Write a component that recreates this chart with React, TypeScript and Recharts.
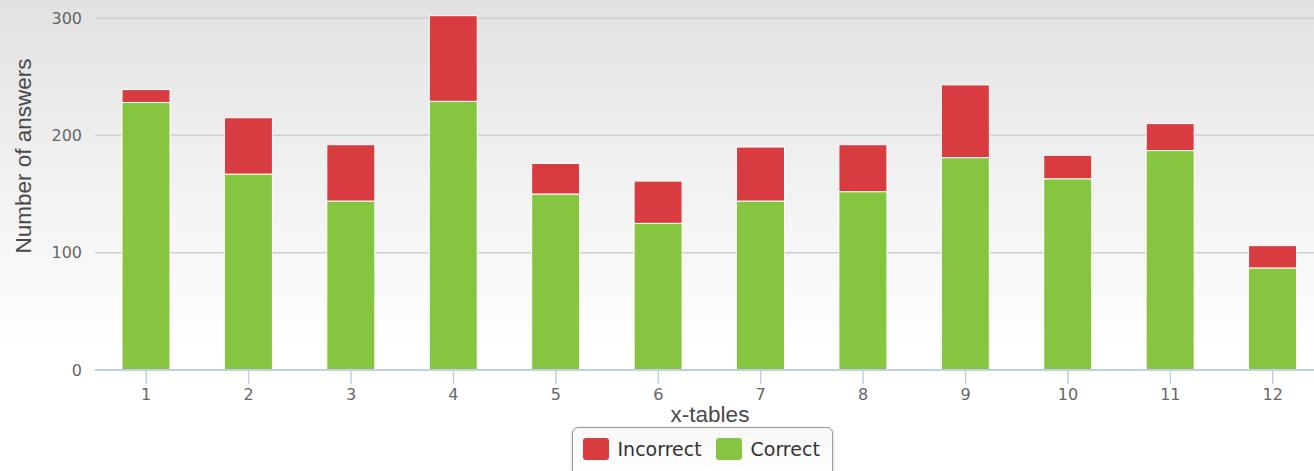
import React from 'react';
import { BarChart, Bar, XAxis, YAxis, CartesianGrid } from 'recharts';

const tables = ['1', '2', '3', '4', '5', '6', '7', '8', '9', '10', '11', '12'];
const correct = [228, 167, 144, 229, 150, 125, 144, 152, 181, 163, 187, 87];
const incorrect = [11, 48, 48, 73, 26, 36, 46, 40, 62, 20, 23, 19];
const yTicks = [0, 100, 200, 300];

const RED = '#d83c41';
const GREEN = '#86c540';

const data = tables.map((t, i) => ({ table: t, correct: correct[i], incorrect: incorrect[i] }));

const YTitle = () => (
  <text
    x={23}
    y={156}
    transform="rotate(-90 23 156)"
    textAnchor="middle"
    dominantBaseline="central"
    fill="#4a4a4a"
    fontSize={22.5}
    fontFamily="'Liberation Sans', Arial, sans-serif"
  >
    Number of answers
  </text>
);

const XTitle = () => (
  <text
    x={710}
    y={414}
    textAnchor="middle"
    dominantBaseline="central"
    fill="#4a4a4a"
    fontSize={22.5}
    fontFamily="'Liberation Sans', Arial, sans-serif"
  >
    x-tables
  </text>
);

const legendItems = [
  { name: 'Incorrect', color: RED },
  { name: 'Correct', color: GREEN },
];

const App: React.FC = () => {
  const tickStyle = { fill: '#666', fontSize: 16, fontFamily: "'DejaVu Sans', Verdana, sans-serif" };
  return (
    <div
      style={{
        position: 'absolute',
        left: 0,
        top: 0,
        width: 1314,
        height: 471,
        overflow: 'hidden',
        background: 'linear-gradient(to bottom, #e2e2e2 0%, #f4f4f4 45%, #ffffff 75%)',
      }}
    >
      {/* domain goes a touch past 300 so the tallest stack pokes above the top grid line */}
      <BarChart width={1330} height={471} data={data} margin={{ top: 14.5, right: 6, left: 0, bottom: 60 }} barSize={48}>
        <CartesianGrid vertical={false} stroke="#cfcfcf" strokeWidth={1.5} syncWithTicks />
        <XAxis
          dataKey="table"
          axisLine={{ stroke: '#c0d0e0', strokeWidth: 2 }}
          tickLine={{ stroke: '#c0d0e0', strokeWidth: 1.5 }}
          tickSize={14}
          tickMargin={5}
          height={41}
          tick={tickStyle}
          interval={0}
          label={<XTitle />}
        />
        <YAxis
          width={95}
          domain={[0, 303]}
          ticks={yTicks}
          axisLine={false}
          tickLine={false}
          tickSize={0}
          tickMargin={13}
          tick={tickStyle}
          label={<YTitle />}
        />
        <Bar dataKey="correct" stackId="a" fill={GREEN} stroke="#fff" strokeWidth={1} isAnimationActive={false} />
        <Bar dataKey="incorrect" stackId="a" fill={RED} stroke="#fff" strokeWidth={1} isAnimationActive={false} />
      </BarChart>
      <div
        style={{
          position: 'absolute',
          left: 572,
          top: 427,
          width: 261,
          height: 56,
          border: '1.5px solid #9a9a9a',
          borderRadius: 6,
          background: 'linear-gradient(to bottom, #f7f7f7, #ffffff)',
          boxShadow: '0 1px 3px rgba(0,0,0,0.25)',
          boxSizing: 'border-box',
        }}
      >
        {legendItems.map((item, i) => (
          <div
            key={item.name}
            style={{
              position: 'absolute',
              left: i === 0 ? 9.5 : 142.5,
              top: 10,
              display: 'flex',
              alignItems: 'center',
              fontFamily: "'DejaVu Sans', Verdana, sans-serif",
              fontSize: 19,
              color: '#333',
            }}
          >
            <span
              style={{
                display: 'inline-block',
                width: 26,
                height: 22,
                borderRadius: 3,
                background: item.color,
                marginRight: 9,
              }}
            />
            {item.name}
          </div>
        ))}
      </div>
    </div>
  );
};

export default App;
